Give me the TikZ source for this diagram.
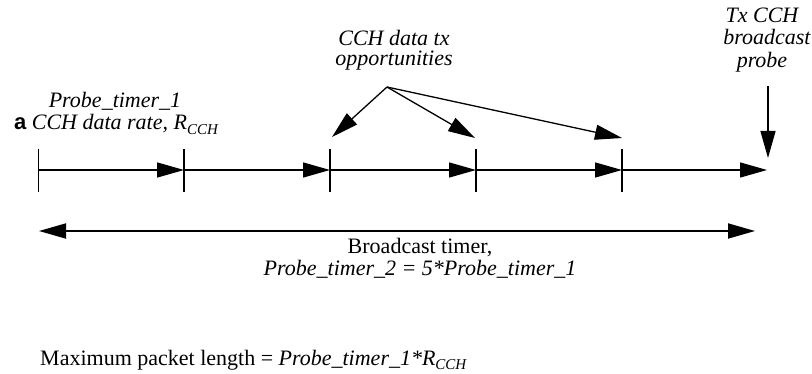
\documentclass[tikz,border=0pt]{standalone}
\usepackage{fontspec}
\setmainfont{Liberation Serif}
\setsansfont{Liberation Sans}
\usetikzlibrary{arrows.meta}
\newcommand{\subCCH}{\raisebox{-0.22em}{\fontsize{15}{15}\selectfont CCH}}
\begin{document}
\begin{tikzpicture}[x=1pt,y=-1pt,
  lbl/.style={inner sep=0pt,anchor=base,font=\fontsize{22}{22}\selectfont},
  ilbl/.style={lbl,font=\fontsize{22}{22}\selectfont\itshape},
  tick/.style={line width=1.3pt},
  arr/.style={line width=1.3pt,-{Triangle[length=27pt,width=15pt]}},
  darr/.style={line width=1.8pt,{Triangle[length=27pt,width=15pt]}-{Triangle[length=27pt,width=15pt]}}]
\useasboundingbox (0,0) rectangle (812,374);
% tick coordinates
\foreach \n/\x in {t0/38.5,t1/184,t2/330,t3/476,t4/622}{
  \coordinate (\n) at (\x,170);
  \coordinate (\n top) at (\x,149);
  \coordinate (\n bot) at (\x,192);
  \draw[tick] (\n top) -- (\n bot);
}
\coordinate (tend) at (767,170);
\draw[arr] (t0) -- (t1);
\draw[arr] (t1) -- (t2);
\draw[arr] (t2) -- (t3);
\draw[arr] (t3) -- (t4);
\draw[arr] (t4) -- (tend);
% labels left
\node[ilbl] (pt1) at (115,108) {Probe\_timer\_1};
\node[lbl] (rate) at (116,130) {{\sffamily\bfseries a}\itshape{} CCH data rate, R\subCCH};
% CCH data tx opportunities
\node[ilbl] (opp1) at (394,46) {CCH data tx};
\node[ilbl] (opp2) at (394,66) {opportunities};
\coordinate (src) at (387,87);
\coordinate (o1) at (332,137);
\coordinate (o2) at (475,138);
\coordinate (o3) at (622,138);
\draw[arr] (src) -- (o1);
\draw[arr] (src) -- (o2);
\draw[arr] (src) -- (o3);
% Tx CCH broadcast probe
\node[ilbl] (tx1) at (762,23) {Tx CCH};
\node[ilbl] (tx2) at (767,45) {broadcast};
\node[ilbl] (tx3) at (762,68) {probe};
\coordinate (txs) at (768,86);
\coordinate (txe) at (768,158);
\draw[arr] (txs) -- (txe);
% broadcast timer
\coordinate (bl) at (39,231);
\coordinate (br) at (755,231);
\draw[darr] (bl) -- (br);
\node[lbl] (bt1) at (420,254) {Broadcast timer,};
\node[ilbl] (bt2) at (420,276) {Probe\_timer\_2 = 5*Probe\_timer\_1};
% max packet length
\node[lbl,anchor=base west] (mpl) at (40,365) {Maximum packet length = \itshape Probe\_timer\_1*R\subCCH};
\end{tikzpicture}
\end{document}
